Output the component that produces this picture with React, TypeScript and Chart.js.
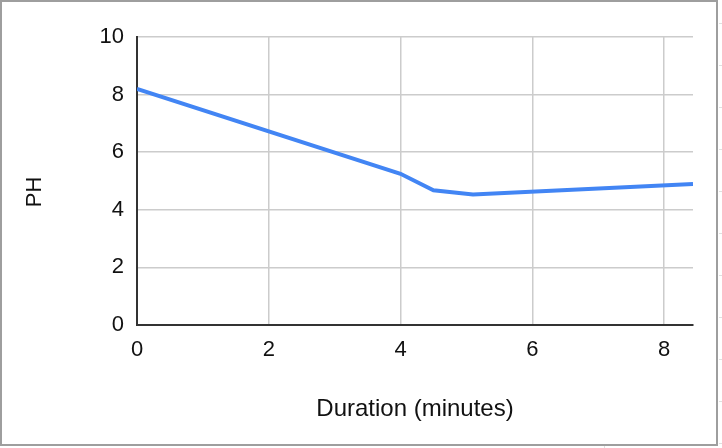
import React, { useEffect, useRef } from "react";
import { Chart, registerables } from "chart.js";

Chart.register(...registerables);

const durations = [0, 4, 4.5, 5.1, 8.44];
const phValues = [8.2, 5.25, 4.68, 4.53, 4.9];
const xTicks = [0, 2, 4, 6, 8];
const yTicks = [0, 2, 4, 6, 8, 10];
const xTitle = "Duration (minutes)";
const yTitle = "PH";

const FONT = "'Liberation Sans', Arial, sans-serif";
const TEXT = "#111111";

const yTitlePlugin = {
  id: "yTitlePlugin",
  afterDraw(chart: any) {
    const ctx = chart.ctx;
    ctx.save();
    ctx.font = `22px ${FONT}`;
    ctx.fillStyle = TEXT;
    ctx.textAlign = "center";
    ctx.textBaseline = "middle";
    ctx.translate(35, 192);
    ctx.rotate(-Math.PI / 2);
    ctx.fillText(yTitle, 0, 0);
    ctx.restore();
  },
};

export default function App() {
  const ref = useRef<HTMLCanvasElement | null>(null);

  useEffect(() => {
    if (!ref.current) return;
    const chart = new Chart(ref.current, {
      type: "line",
      data: {
        datasets: [
          {
            data: durations.map((d, i) => ({ x: d, y: phValues[i] })),
            borderColor: "#4285f4",
            borderWidth: 4,
            pointRadius: 0,
            tension: 0,
            fill: false,
          },
        ],
      },
      options: {
        animation: false,
        responsive: false,
        layout: { padding: { top: 37, right: 29, bottom: 0, left: 0 } },
        plugins: { legend: { display: false }, tooltip: { enabled: false } },
        scales: {
          x: {
            type: "linear",
            min: 0,
            max: 8.44,
            afterBuildTicks: (scale: any) => {
              scale.ticks = xTicks.map((v) => ({ value: v }));
            },
            afterFit: (scale: any) => {
              scale.height = 123;
            },
            grid: { color: "#cccccc", lineWidth: 1.5, drawTicks: false },
            border: { color: "#333333", width: 2 },
            ticks: {
              padding: 12,
              color: TEXT,
              font: { family: FONT, size: 22 },
              maxRotation: 0,
            },
            title: {
              display: true,
              text: xTitle,
              color: TEXT,
              font: { family: FONT, size: 24 },
              padding: { top: 0, bottom: 24 },
            },
          },
          y: {
            min: 0,
            max: 10,
            afterBuildTicks: (scale: any) => {
              scale.ticks = yTicks.map((v) => ({ value: v }));
            },
            afterFit: (scale: any) => {
              scale.width = 137;
            },
            grid: { color: "#cccccc", lineWidth: 1.5, drawTicks: false },
            border: { color: "#333333", width: 2 },
            ticks: {
              padding: 13,
              color: TEXT,
              font: { family: FONT, size: 22 },
            },
          },
        },
      },
      plugins: [yTitlePlugin],
    } as any);
    return () => chart.destroy();
  }, []);

  const marks = [23, 65, 107, 149, 191, 233, 275, 317, 359, 401, 443];

  return (
    <div
      style={{
        position: "fixed",
        top: 0,
        left: 0,
        width: 722,
        height: 448,
        background: "#ffffff",
        overflow: "hidden",
      }}
    >
      <canvas ref={ref} width={722} height={448} style={{ position: "absolute", left: 0, top: 0 }} />
      <div
        style={{
          position: "absolute",
          left: 0,
          top: 0,
          width: 714,
          height: 442,
          border: "2px solid #9e9e9e",
          pointerEvents: "none",
        }}
      />
      {marks.map((y) => (
        <div
          key={y}
          style={{ position: "absolute", left: 719, top: y, width: 3, height: 1, background: "#e0e0e0" }}
        />
      ))}
      <div style={{ position: "absolute", left: 604, top: 446, width: 1, height: 2, background: "#e0e0e0" }} />
    </div>
  );
}
